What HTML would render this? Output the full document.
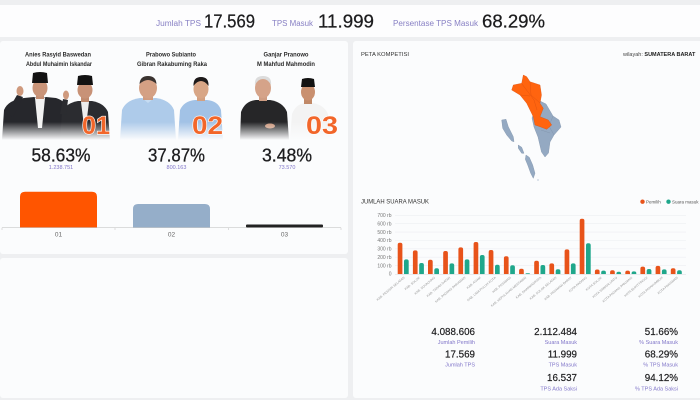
<!DOCTYPE html>
<html>
<head>
<meta charset="utf-8">
<style>
html,body{margin:0;padding:0;background:#eeeff1;}
body{width:700px;height:400px;overflow:hidden;position:relative;font-family:"Liberation Sans",sans-serif;}
svg{position:absolute;left:0;top:0;}
</style>
</head>
<body>
<svg width="700" height="400" viewBox="0 0 700 400" xmlns="http://www.w3.org/2000/svg" font-family="Liberation Sans, sans-serif">
<defs>
<linearGradient id="fade" x1="0" y1="0" x2="0" y2="1">
<stop offset="0" stop-color="#fbfcfd" stop-opacity="0"/>
<stop offset="1" stop-color="#fbfcfd" stop-opacity="1"/>
</linearGradient>
</defs>
<!-- background panels -->
<rect x="0" y="0" width="700" height="400" fill="#eeeff1"/>
<rect x="0" y="5" width="700" height="32" fill="#fdfdfe"/>
<rect x="0" y="41" width="348" height="213" rx="3" fill="#fbfcfd"/>
<rect x="0" y="258" width="348" height="140" rx="3" fill="#fbfcfd"/>
<rect x="353" y="41" width="350" height="357" rx="3" fill="#fbfcfd"/>

<!-- top bar -->
<text x="156" y="26" font-size="8" fill="#8880c4" textLength="45" lengthAdjust="spacingAndGlyphs">Jumlah TPS</text>
<text x="204" y="27.5" font-size="18.5" fill="#1c1c1e" stroke="#1c1c1e" stroke-width="0.25" textLength="51" lengthAdjust="spacingAndGlyphs">17.569</text>
<text x="272" y="26" font-size="8" fill="#8880c4" textLength="41" lengthAdjust="spacingAndGlyphs">TPS Masuk</text>
<text x="318" y="27.5" font-size="18.5" fill="#1c1c1e" stroke="#1c1c1e" stroke-width="0.25" textLength="56" lengthAdjust="spacingAndGlyphs">11.999</text>
<text x="393" y="26" font-size="8" fill="#8880c4" textLength="85" lengthAdjust="spacingAndGlyphs">Persentase TPS Masuk</text>
<text x="482" y="27.5" font-size="18.5" fill="#1c1c1e" stroke="#1c1c1e" stroke-width="0.25" textLength="63" lengthAdjust="spacingAndGlyphs">68.29%</text>

<!-- candidate names -->
<g font-size="6.3" font-weight="bold" fill="#2a2a2a" text-anchor="middle">
<text x="58" y="56.5" textLength="66" lengthAdjust="spacingAndGlyphs">Anies Rasyid Baswedan</text>
<text x="59" y="66" textLength="66" lengthAdjust="spacingAndGlyphs">Abdul Muhaimin Iskandar</text>
<text x="171" y="56.5" textLength="50" lengthAdjust="spacingAndGlyphs">Prabowo Subianto</text>
<text x="172" y="66" textLength="70" lengthAdjust="spacingAndGlyphs">Gibran Rakabuming Raka</text>
<text x="286" y="56.5" textLength="45" lengthAdjust="spacingAndGlyphs">Ganjar Pranowo</text>
<text x="286" y="66" textLength="58" lengthAdjust="spacingAndGlyphs">M Mahfud Mahmodin</text>
</g>

<!-- Photo 01 -->
<g>
<path d="M2,140 L4,110 Q8,100 24,98 L34,97 Q40,100 46,97 L56,98 Q66,101 68,110 L70,140 Z" fill="#26272c"/>
<path d="M35,98 L40,97 L45,98 L42,128 L38,128 Z" fill="#f2f2f2"/>
<rect x="36" y="91" width="8" height="8" fill="#c38d72"/>
<ellipse cx="40" cy="88" rx="7.5" ry="9" fill="#c99479"/>
<path d="M32,83 L33,73 Q40,71 47,73 L48,83 Z" fill="#121212"/>
<path d="M6,114 L17,95 L23,97 L13,117 Z" fill="#26272c"/>
<ellipse cx="20" cy="91" rx="3.5" ry="5" fill="#cf9a7e"/>
<path d="M60,140 L62,112 Q66,103 78,101 L92,101 Q104,103 108,112 L110,140 Z" fill="#2b2c30"/>
<path d="M81,102 L89,102 L86,126 L84,126 Z" fill="#eeeeee"/>
<rect x="81" y="94" width="8" height="8" fill="#c08a6e"/>
<ellipse cx="85" cy="90" rx="7.5" ry="8.5" fill="#c89277"/>
<path d="M77,85 L78,76 Q85,74 92,76 L93,85 Z" fill="#121212"/>
<path d="M60,114 L63,99 L68,100 L66,115 Z" fill="#2b2c30"/>
<ellipse cx="66" cy="95" rx="3" ry="4.5" fill="#cf9a7e"/>
</g>
<!-- Photo 02 -->
<g>
<path d="M120,140 L122,110 Q126,100 140,98 L156,98 Q170,100 174,110 L176,140 Z" fill="#aecbea"/>
<path d="M142,98 L148,103 L154,98 Z" fill="#c6dcf2"/>
<rect x="143" y="92" width="10" height="8" fill="#cf9b80"/>
<ellipse cx="148" cy="88" rx="9" ry="10.5" fill="#d4a084"/>
<path d="M139.5,84 Q140,76 148,76 Q156,76 156.5,84 Q152,80 148,80 Q144,80 139.5,84 Z" fill="#3a3330"/>
<path d="M178,140 L180,110 Q184,101 195,100 L207,100 Q218,101 221,110 L223,140 Z" fill="#a2c2e6"/>
<rect x="197" y="93" width="8" height="8" fill="#d2a081"/>
<ellipse cx="201" cy="89" rx="7.5" ry="9.5" fill="#d8a686"/>
<path d="M193.5,86 Q193,77 201,77 Q209,77 208.5,86 Q205,81 201,81 Q197,81 193.5,86 Z" fill="#1d1a1a"/>
</g>
<!-- Photo 03 -->
<g>
<path d="M240,140 L241,112 Q245,101 256,100 L270,100 Q283,102 287,112 L289,140 Z" fill="#262628"/>
<rect x="259" y="93" width="8" height="8" fill="#cf9d83"/>
<ellipse cx="263" cy="88" rx="8" ry="10" fill="#d5a389"/>
<path d="M255,85 Q254,76 263,76 Q272,76 271,85 Q268,79 263,79 Q258,79 255,85 Z" fill="#dcdcdc"/>
<ellipse cx="270" cy="126" rx="5" ry="2.5" fill="#c99479"/>
<path d="M290,140 L292,114 Q296,104 305,103 L313,103 Q324,105 328,114 L332,140 Z" fill="#f3f3f3"/>
<rect x="304" y="96" width="8" height="8" fill="#c08866"/>
<ellipse cx="308" cy="92" rx="7" ry="8.5" fill="#c99070"/>
<path d="M301,87 L302,79 Q308,77 314,79 L315,87 Z" fill="#121212"/>
</g>
<rect x="0" y="122" width="348" height="18" fill="url(#fade)"/>
<g font-size="25" font-weight="bold" fill="#f2662a" stroke="#ffffff" stroke-width="1.2" paint-order="stroke">
<text x="82" y="134" textLength="28" lengthAdjust="spacingAndGlyphs">01</text>
<text x="192" y="134" textLength="31" lengthAdjust="spacingAndGlyphs">02</text>
<text x="306" y="134" textLength="32" lengthAdjust="spacingAndGlyphs">03</text>
</g>

<!-- Percentages -->
<g font-size="18" fill="#1d1d1f" stroke="#1d1d1f" stroke-width="0.3" text-anchor="middle">
<text x="61" y="161.5" textLength="59" lengthAdjust="spacingAndGlyphs">58.63%</text>
<text x="176.5" y="161.5" textLength="57" lengthAdjust="spacingAndGlyphs">37.87%</text>
<text x="287" y="161.5" textLength="50" lengthAdjust="spacingAndGlyphs">3.48%</text>
</g>
<g font-size="5.5" fill="#8176c9" text-anchor="middle">
<text x="61" y="169">1.238.751</text>
<text x="176.5" y="169">800.163</text>
<text x="287" y="169">73.570</text>
</g>

<!-- Left bar chart -->
<path d="M20,227.5 V196.7 Q20,191.7 25,191.7 H92 Q97,191.7 97,196.7 V227.5 Z" fill="#ff5500"/>
<path d="M133,227.5 V209 Q133,204 138,204 H205 Q210,204 210,209 V227.5 Z" fill="#95aec9"/>
<rect x="246" y="224.5" width="77" height="3" rx="1" fill="#222222"/>
<line x1="2" y1="227.7" x2="341" y2="227.7" stroke="#c8c8c8" stroke-width="0.6"/>
<g stroke="#c8c8c8" stroke-width="0.6">
<line x1="2" y1="227.7" x2="2" y2="230"/>
<line x1="115" y1="227.7" x2="115" y2="230"/>
<line x1="228.3" y1="227.7" x2="228.3" y2="230"/>
<line x1="341" y1="227.7" x2="341" y2="230"/>
</g>
<g font-size="6.5" fill="#666" text-anchor="middle">
<text x="58.5" y="236.5">01</text>
<text x="171.5" y="236.5">02</text>
<text x="284.5" y="236.5">03</text>
</g>

<!-- Right panel headers -->
<text x="361" y="56" font-size="5.5" fill="#333" textLength="48" lengthAdjust="spacingAndGlyphs">PETA KOMPETISI</text>
<text x="623" y="56" font-size="5.5" fill="#444">wilayah: <tspan font-weight="bold" fill="#222">SUMATERA BARAT</tspan></text>

<!-- Map -->
<g stroke="#7f92aa" stroke-width="0.4" fill="#94a9c2">
<path d="M538,100 L546,104 L553,116 L559,120 L561,127 L554,135 L550,142 L548.5,153 L545,157 L541.5,152 L538,137 L534,127 L532,118 Z"/>
<path d="M553,116 L549,126 L554,135"/>
<path d="M541,130 L550,133"/>
<path d="M501.7,120 L506,119.3 L508.3,126.7 L513.3,136.7 L514,141.7 L511.7,141 L506.7,135 L502.7,128.3 Z"/>
<path d="M518.3,145 L521.7,147.3 L524,153.3 L521.7,153.3 L518.3,148.3 Z"/>
<path d="M526,155 L529.3,157.3 L532.7,165 L535,173.3 L533.3,178.3 L530.7,173.3 L527.7,165 L525.3,159.3 Z"/>
</g>
<g stroke="#d94e0f" stroke-width="0.35" fill="#ff640f">
<path d="M523.3,75 L526.7,76.7 L530,81.7 L540,85 L541.5,95 L540,103.3 L543.3,108.3 L540,116.7 L548.3,120 L551.7,125 L546.7,129.3 L540,126.7 L535,125 L533.3,116.7 L526.7,103.3 L520,95 L511.7,90 L513.3,85 L521.7,83.3 Z"/>
<path d="M522,84 L528,92 L534,100 L537,110"/>
<path d="M530,82 L531,95 L540,103"/>
<path d="M520,95 L530,96"/>
</g>
<circle cx="538" cy="180" r="0.6" fill="#94a9c2"/>

<!-- Chart title & legend -->
<text x="361" y="203.5" font-size="6" fill="#333" textLength="68" lengthAdjust="spacingAndGlyphs">JUMLAH SUARA MASUK</text>
<circle cx="642.5" cy="201.7" r="2.2" fill="#e8531a"/>
<text x="646" y="203.3" font-size="4.5" fill="#555">Pemilih</text>
<circle cx="668.5" cy="201.7" r="2.2" fill="#1fa78b"/>
<text x="672" y="203.3" font-size="4.5" fill="#555">Suara masuk</text>

<!-- grid -->
<g stroke="#eceef2" stroke-width="0.6">
<line x1="395" y1="215.3" x2="686" y2="215.3"/>
<line x1="395" y1="223.7" x2="686" y2="223.7"/>
<line x1="395" y1="232.1" x2="686" y2="232.1"/>
<line x1="395" y1="240.5" x2="686" y2="240.5"/>
<line x1="395" y1="248.8" x2="686" y2="248.8"/>
<line x1="395" y1="257.2" x2="686" y2="257.2"/>
<line x1="395" y1="265.6" x2="686" y2="265.6"/>
</g>
<g font-size="5" fill="#777" text-anchor="end">
<text x="391.5" y="217">700 rb</text>
<text x="391.5" y="225.4">600 rb</text>
<text x="391.5" y="233.8">500 rb</text>
<text x="391.5" y="242.2">400 rb</text>
<text x="391.5" y="250.5">300 rb</text>
<text x="391.5" y="258.9">200 rb</text>
<text x="391.5" y="267.3">100 rb</text>
<text x="391.5" y="275.7">0</text>
</g>

<!-- bars orange -->
<g fill="#e8531a">
<rect x="397.7" y="242.7" width="4.7" height="33.3" rx="2"/>
<rect x="412.9" y="250.35" width="4.7" height="25.65" rx="2"/>
<rect x="428.0" y="259.74" width="4.7" height="16.26" rx="2"/>
<rect x="443.2" y="251.02" width="4.7" height="24.98" rx="2"/>
<rect x="458.4" y="247.33" width="4.7" height="28.67" rx="2"/>
<rect x="473.6" y="242.05" width="4.7" height="33.95" rx="2"/>
<rect x="488.7" y="250.02" width="4.7" height="25.98" rx="2"/>
<rect x="503.9" y="256.31" width="4.7" height="19.69" rx="2"/>
<rect x="519.1" y="268.72" width="4.7" height="7.28" rx="2"/>
<rect x="534.2" y="260.75" width="4.7" height="15.25" rx="2"/>
<rect x="549.4" y="263.35" width="4.7" height="12.65" rx="2"/>
<rect x="564.6" y="249.35" width="4.7" height="26.65" rx="2"/>
<rect x="579.7" y="218.74" width="4.7" height="57.26" rx="2"/>
<rect x="594.9" y="269.56" width="4.7" height="6.44" rx="2"/>
<rect x="610.1" y="270.23" width="4.7" height="5.77" rx="2"/>
<rect x="625.3" y="270.65" width="4.7" height="5.35" rx="2"/>
<rect x="640.4" y="266.62" width="4.7" height="9.38" rx="2"/>
<rect x="655.6" y="265.87" width="4.7" height="10.13" rx="2"/>
<rect x="670.8" y="268.3" width="4.7" height="7.7" rx="2"/>
</g>
<!-- bars teal -->
<g fill="#1fa78b">
<rect x="404.0" y="259.32" width="4.7" height="16.68" rx="2"/>
<rect x="419.2" y="263.01" width="4.7" height="12.99" rx="2"/>
<rect x="434.3" y="268.3" width="4.7" height="7.7" rx="2"/>
<rect x="449.5" y="263.35" width="4.7" height="12.65" rx="2"/>
<rect x="464.7" y="259.32" width="4.7" height="16.68" rx="2"/>
<rect x="479.9" y="255.05" width="4.7" height="20.95" rx="2"/>
<rect x="495.0" y="264.69" width="4.7" height="11.31" rx="2"/>
<rect x="510.2" y="265.28" width="4.7" height="10.72" rx="2"/>
<rect x="525.4" y="273.3" width="4.7" height="2.7" rx="1"/>
<rect x="540.5" y="265.03" width="4.7" height="10.97" rx="2"/>
<rect x="555.7" y="269.3" width="4.7" height="6.7" rx="2"/>
<rect x="570.9" y="263.35" width="4.7" height="12.65" rx="2"/>
<rect x="586.0" y="243.31" width="4.7" height="32.69" rx="2"/>
<rect x="601.2" y="270.65" width="4.7" height="5.35" rx="2"/>
<rect x="616.4" y="271.74" width="4.7" height="4.26" rx="2"/>
<rect x="631.6" y="271.32" width="4.7" height="4.68" rx="2"/>
<rect x="646.7" y="268.97" width="4.7" height="7.03" rx="2"/>
<rect x="661.9" y="269.39" width="4.7" height="6.61" rx="2"/>
<rect x="677.1" y="270.23" width="4.7" height="5.77" rx="2"/>
</g>
<rect x="395" y="274.3" width="292" height="3" fill="#fbfcfd"/>
<line x1="395" y1="274.3" x2="686" y2="274.3" stroke="#d8dade" stroke-width="0.5"/>

<!-- x labels -->
<g font-size="3.2" fill="#9a9a9a" text-anchor="end">
<text transform="translate(405,278) rotate(-40)">KAB. PESISIR SELATAN</text>
<text transform="translate(420.3,278) rotate(-40)">KAB. SOLOK</text>
<text transform="translate(435.4,278) rotate(-40)">KAB. SIJUNJUNG</text>
<text transform="translate(450.6,278) rotate(-40)">KAB. TANAH DATAR</text>
<text transform="translate(465.8,278) rotate(-40)">KAB. PADANG PARIAMAN</text>
<text transform="translate(481,278) rotate(-40)">KAB. AGAM</text>
<text transform="translate(496.1,278) rotate(-40)">KAB. LIMA PULUH KOTA</text>
<text transform="translate(511.3,278) rotate(-40)">KAB. PASAMAN</text>
<text transform="translate(526.5,278) rotate(-40)">KAB. KEPULAUAN MENTAWAI</text>
<text transform="translate(541.6,278) rotate(-40)">KAB. DHARMASRAYA</text>
<text transform="translate(556.8,278) rotate(-40)">KAB. SOLOK SELATAN</text>
<text transform="translate(572,278) rotate(-40)">KAB. PASAMAN BARAT</text>
<text transform="translate(587.1,278) rotate(-40)">KOTA PADANG</text>
<text transform="translate(602.3,278) rotate(-40)">KOTA SOLOK</text>
<text transform="translate(617.5,278) rotate(-40)">KOTA SAWAHLUNTO</text>
<text transform="translate(632.7,278) rotate(-40)">KOTA PADANG PANJANG</text>
<text transform="translate(647.8,278) rotate(-40)">KOTA BUKITTINGGI</text>
<text transform="translate(663,278) rotate(-40)">KOTA PAYAKUMBUH</text>
<text transform="translate(678.2,278) rotate(-40)">KOTA PARIAMAN</text>
</g>

<!-- Stats -->
<g font-size="9.8" fill="#1d1d1f" stroke="#1d1d1f" stroke-width="0.2" text-anchor="end">
<text x="475" y="335">4.088.606</text>
<text x="475" y="357.7">17.569</text>
<text x="577" y="335">2.112.484</text>
<text x="577" y="357.7">11.999</text>
<text x="577" y="381">16.537</text>
<text x="678" y="335">51.66%</text>
<text x="678" y="357.7">68.29%</text>
<text x="678" y="381">94.12%</text>
</g>
<g font-size="5.5" fill="#8176c9" text-anchor="end">
<text x="475" y="344">Jumlah Pemilih</text>
<text x="475" y="366.7">Jumlah TPS</text>
<text x="577" y="344">Suara Masuk</text>
<text x="577" y="366.7">TPS Masuk</text>
<text x="577" y="390.5">TPS Ada Saksi</text>
<text x="678" y="344">% Suara Masuk</text>
<text x="678" y="366.7">% TPS Masuk</text>
<text x="678" y="390.5">% TPS Ada Saksi</text>
</g>
</svg>
</body>
</html>
